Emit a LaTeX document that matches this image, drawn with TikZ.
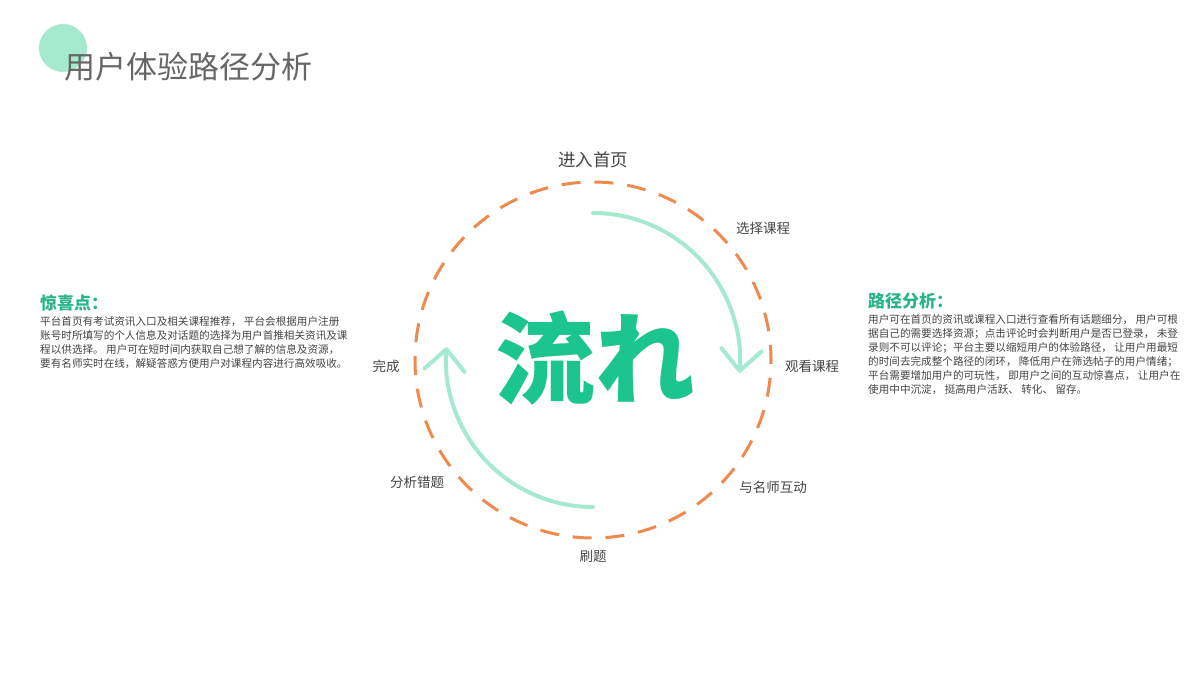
\documentclass[tikz,border=0pt]{standalone}
\usepackage{fontspec}
\setmainfont{Noto Sans CJK SC}
\usepackage{xcolor}
\usetikzlibrary{positioning,arrows.meta}
\definecolor{flowgreen}{HTML}{1CC48E}
\definecolor{headgreen}{HTML}{2AB48A}
\definecolor{mint}{HTML}{A5E9CF}
\definecolor{dashorange}{HTML}{EE8A4E}
\definecolor{titlegray}{HTML}{666666}
\definecolor{labelgray}{HTML}{444444}
\tikzset{>={Straight Barb[length=21pt,width=40pt,round]}}

\begin{document}
\begin{tikzpicture}[x=1pt,y=1pt,
stepnode/.style={text=labelgray, font=\fontsize{13.5}{16}\selectfont, inner sep=0pt},
headnode/.style={text=headgreen, font=\fontsize{17}{20}\selectfont\bfseries, inner sep=0pt, anchor=west},
bodynode/.style={text=labelgray, font=\fontsize{10.6}{14}\selectfont, align=left, inner sep=0pt},
flowline/.style={mint, line width=4pt, line cap=round},
]
\fill[white] (0,0) rectangle (1200,687);
\useasboundingbox (0,0) rectangle (1200,687);

%Title
\fill[mint] (63,639) circle[radius=24pt];
\node[text=titlegray, font=\fontsize{31}{34}\selectfont, inner sep=0pt, anchor=west](Title) at (64,620){用户体验路径分析};

%Cycle
\coordinate (c) at (593,327);
\draw[dashorange, line width=3pt, dash pattern=on 19pt off 13.9pt, dash phase=4pt] (c) circle[radius=178pt];
\node[text=flowgreen, font=\fontsize{100}{100}\selectfont\bfseries, inner sep=0pt](Flow) at (595,329){流れ};

%Nodes
\node[stepnode, font=\fontsize{17.5}{20}\selectfont](Home) at (593,527){进入首页};
\node[stepnode](Choose) at (763,459){选择课程};
\node[stepnode](Watch) at (812,321){观看课程};
\node[stepnode](Teacher) at (773,200){与名师互动};
\node[stepnode](Practice) at (593,131){刷题};
\node[stepnode](Review) at (417,205){分析错题};
\node[stepnode](Done) at (386,321){完成};

%Lines
\draw[flowline, ->] ([shift={(90:147pt)}]c) arc[start angle=90, end angle=-5, radius=147pt];
\draw[flowline, ->] ([shift={(270:147pt)}]c) arc[start angle=270, end angle=175, radius=147pt];

%Notes
\node[headnode](Surprise) at (40,384){惊喜点：};
\node[bodynode](Surprise Text)[below right=5pt and 0pt of Surprise.south west]{平台首页有考试资讯入口及相关课程推荐， 平台会根据用户注册\\账号时所填写的个人信息及对话题的选择为用户首推相关资讯及课\\程以供选择。 用户可在短时间内获取自己想了解的信息及资源，\\要有名师实时在线，解疑答惑方便用户对课程内容进行高效吸收。};
\node[headnode](Path) at (868,386){路径分析：};
\node[bodynode](Path Text)[below right=5pt and 0pt of Path.south west]{用户可在首页的资讯或课程入口进行查看所有话题细分， 用户可根\\据自己的需要选择资源；点击评论时会判断用户是否已登录， 未登\\录则不可以评论；平台主要以缩短用户的体验路径， 让用户用最短\\的时间去完成整个路径的闭环， 降低用户在筛选帖子的用户情绪；\\平台需要增加用户的可玩性， 即用户之间的互动惊喜点， 让用户在\\使用中中沉淀， 挺高用户活跃、 转化、 留存。};
\end{tikzpicture}
\end{document}
